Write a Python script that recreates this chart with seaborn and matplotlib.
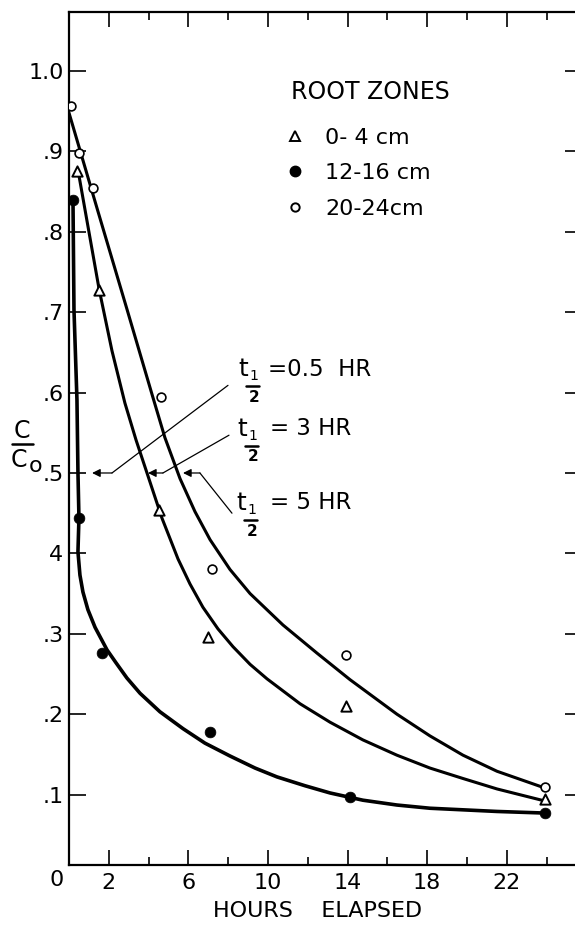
import numpy as np
import matplotlib
matplotlib.use("Agg")
import matplotlib.pyplot as plt
import seaborn as sns
from matplotlib.lines import Line2D

# measured points (hours elapsed, C/Co)
circle_hours = [0.1, 0.5, 1.2, 4.6, 7.2, 13.9, 23.9]
circle_conc = [0.957, 0.898, 0.854, 0.595, 0.381, 0.274, 0.11]
tri_hours = [0.4, 1.5, 4.5, 7.0, 13.9, 23.9]
tri_conc = [0.876, 0.728, 0.454, 0.296, 0.210, 0.095]
dot_hours = [0.2, 0.5, 1.65, 7.1, 14.1, 23.9]
dot_conc = [0.840, 0.444, 0.276, 0.178, 0.097, 0.077]

# fitted curves
outer_hours = [0.0, 1.46, 2.91, 4.17, 4.82, 5.58, 6.33, 7.09, 8.09, 9.10, 10.75,
               12.46, 14.12, 16.48, 18.14, 19.80, 21.51, 23.82]
outer_conc = [0.948, 0.825, 0.704, 0.598, 0.544, 0.493, 0.452, 0.417, 0.380, 0.350,
              0.311, 0.276, 0.243, 0.200, 0.173, 0.149, 0.129, 0.109]
middle_hours = [0.45, 1.51, 2.16, 2.81, 3.37, 3.92, 4.67, 5.48, 6.08, 6.73, 7.49,
                8.24, 9.10, 9.95, 11.61, 13.12, 14.77, 16.48, 18.14, 19.80, 21.51, 23.92]
middle_conc = [0.877, 0.729, 0.652, 0.587, 0.541, 0.500, 0.444, 0.393, 0.362, 0.333,
               0.306, 0.284, 0.262, 0.244, 0.213, 0.190, 0.168, 0.149, 0.133, 0.120,
               0.107, 0.092]
inner_hours = [0.20, 0.25, 0.40, 0.45, 0.50, 0.45, 0.55, 0.70, 0.95, 1.31, 1.91, 2.36,
               2.91, 3.57, 4.57, 5.73, 6.83, 8.09, 9.35, 10.45, 11.86, 13.12, 14.77,
               16.48, 18.14, 21.51, 23.92]
inner_conc = [0.840, 0.703, 0.591, 0.501, 0.444, 0.402, 0.373, 0.352, 0.330, 0.308,
              0.280, 0.264, 0.245, 0.226, 0.203, 0.182, 0.164, 0.148, 0.133, 0.122,
              0.111, 0.102, 0.093, 0.087, 0.083, 0.079, 0.077]

zone_labels = ["0- 4 cm", "12-16 cm", "20-24cm"]
xtick_major = [2, 6, 10, 14, 18, 22]
xtick_minor = [4, 8, 12, 16, 20, 24]
yticks = [0.1, 0.2, 0.3, 0.4, 0.5, 0.6, 0.7, 0.8, 0.9, 1.0]
ytick_labels = [".1", ".2", ".3", "4", ".5", ".6", ".7", ".8", ".9", "1.0"]

# half-life pointers: (line start), (elbow at .5), (arrow tip)
pointer_start = [(7.99, 0.609), (8.04, 0.547), (8.19, 0.450)]
pointer_elbow = [(2.16, 0.5), (4.72, 0.5), (6.58, 0.5)]
pointer_tip = [(1.16, 0.5), (3.97, 0.5), (5.73, 0.5)]
half_life_text = ["=0.5  HR", "= 3 HR", "= 5 HR"]

sns.set_theme(style="ticks")
plt.rcParams["font.family"] = ["DejaVu Sans"]
plt.rcParams.update({"text.color": "black", "axes.labelcolor": "black",
                     "xtick.color": "black", "ytick.color": "black"})

W, H = 575, 927
fig = plt.figure(figsize=(W / 100, H / 100), dpi=100)
ax = fig.add_axes([69 / W, 62 / H, 506 / W, 853 / H])


def fx(x):
    return x / W


def fy(y):
    return 1 - y / H


# curves
for hrs, conc, lw in [(outer_hours, outer_conc, 2.2), (middle_hours, middle_conc, 2.2),
                      (inner_hours, inner_conc, 2.6)]:
    sns.lineplot(x=hrs, y=conc, sort=False, estimator=None, color="black", lw=lw, ax=ax)

# points
sns.scatterplot(x=circle_hours, y=circle_conc, marker="o", s=40, color="white",
                edgecolor="black", linewidth=1.2, ax=ax, zorder=3)
sns.scatterplot(x=tri_hours, y=tri_conc, marker="^", s=55, color="white",
                edgecolor="black", linewidth=1.4, ax=ax, zorder=3)
sns.scatterplot(x=dot_hours, y=dot_conc, marker="o", s=60, color="black",
                edgecolor="black", linewidth=0.5, ax=ax, zorder=3)

ax.set_xlim(0, 25.43)
ax.set_ylim(0.0124, 1.0734)

ax.set_xticks(xtick_major)
ax.set_xticklabels([str(t) for t in xtick_major])
ax.set_xticks(xtick_minor, minor=True)
ax.tick_params(axis="x", which="major", direction="in", length=10.5, width=1.2,
               top=True, bottom=True, labelsize=16, pad=6)
ax.tick_params(axis="x", which="minor", direction="in", length=5.5, width=1.2,
               top=True, bottom=True)
ax.set_yticks(yticks)
ax.set_yticklabels(ytick_labels)
ax.tick_params(axis="y", which="major", direction="in", length=12, width=1.2,
               left=True, right=False, labelsize=16, pad=4)
ax.text(-0.6, -0.0176, "0", transform=ax.get_xaxis_transform(), fontsize=16,
        ha="center", va="center")

sec = ax.secondary_yaxis("right")
sec.set_yticks(yticks)
sec.tick_params(direction="in", length=7, width=1.2, labelright=False)
sec.spines["right"].set_visible(False)

ax.spines["right"].set_visible(False)
for side in ["left", "bottom", "top"]:
    ax.spines[side].set_linewidth(1.6)
    ax.spines[side].set_color("black")

ax.set_xlabel("HOURS    ELAPSED", fontsize=16)
ax.xaxis.set_label_coords(0.492, -0.042)
ax.set_ylabel("")

# C / Co axis label
fig.text(fx(22), fy(431), "C", fontsize=17, ha="center", va="center")
fig.add_artist(Line2D([fx(12), fx(33)], [fy(444), fy(444)], color="black", lw=1.8))
fig.text(fx(19), fy(460), "C", fontsize=17, ha="center", va="center")
fig.text(fx(36), fy(466), "o", fontsize=16, ha="center", va="center")

# legend
handles = [
    Line2D([], [], ls="none", marker="^", ms=6.5, mfc="white", mec="black", mew=1.4),
    Line2D([], [], ls="none", marker="o", ms=7.5, mfc="black", mec="black"),
    Line2D([], [], ls="none", marker="o", ms=6, mfc="white", mec="black", mew=1.4),
]
leg = ax.legend(handles=handles, labels=zone_labels, title="ROOT ZONES", loc="upper left",
                bbox_to_anchor=(fx(291), fy(80)), bbox_transform=fig.transFigure,
                frameon=False, alignment="left", fontsize=16, title_fontsize=17,
                handlelength=0.4, handletextpad=1.15, labelspacing=0.7,
                borderpad=0, borderaxespad=0)
leg._legend_box.sep = 17

# half-life pointers
for start, elbow, tip in zip(pointer_start, pointer_elbow, pointer_tip):
    ax.plot([start[0], elbow[0]], [start[1], elbow[1]], color="black", lw=0.9)
    ax.annotate("", xy=tip, xytext=elbow,
                arrowprops=dict(arrowstyle="-|>", color="black", lw=0.9,
                                mutation_scale=12, shrinkA=0, shrinkB=0))


def half_life(x0, y0, text_x, text):
    fig.text(fx(x0), fy(y0), "t", fontsize=18, ha="center", va="center")
    fig.text(fx(x0 + 10.5), fy(y0 + 7), "1", fontsize=10, ha="center", va="center")
    fig.add_artist(Line2D([fx(x0 + 3), fx(x0 + 16)], [fy(y0 + 17), fy(y0 + 17)],
                          color="black", lw=1.8))
    fig.text(fx(x0 + 11), fy(y0 + 28), "2", fontsize=11, ha="center", va="center",
             fontweight="bold")
    fig.text(fx(text_x), fy(y0), text, fontsize=16.5, ha="left", va="center")


half_life(243, 369, 268, half_life_text[0])
half_life(242, 429, 270, half_life_text[1])
half_life(241, 503, 270, half_life_text[2])

fig.savefig("out.png", dpi=100, facecolor="white")
